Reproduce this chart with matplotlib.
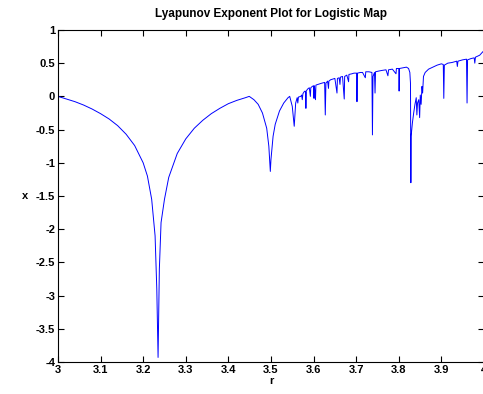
import matplotlib.pyplot as plt

# values (r, Lyapunov exponent)
r_vals = [
    3.000, 3.020, 3.040, 3.060, 3.080, 3.100, 3.120, 3.140, 3.160, 3.180,
    3.200, 3.210, 3.220, 3.228, 3.232, 3.2350, 3.2365, 3.238, 3.242, 3.250,
    3.260, 3.280, 3.300, 3.320, 3.340, 3.360, 3.380, 3.400, 3.420, 3.440,
    3.449, 3.460, 3.470, 3.480, 3.490, 3.495, 3.4985, 3.500, 3.505, 3.510,
    3.520, 3.530, 3.540, 3.544, 3.550, 3.5546, 3.558, 3.5615, 3.5630, 3.5645,
    3.5700, 3.5720, 3.5735, 3.5750, 3.5780, 3.5800, 3.5815, 3.5820, 3.5828, 3.5860,
    3.5900, 3.5925, 3.5935, 3.5970, 3.6000, 3.6010, 3.6020, 3.6045, 3.6055, 3.6100,
    3.6150, 3.6200, 3.6260, 3.6275, 3.6290, 3.6330, 3.6350, 3.6360, 3.6400, 3.6450,
    3.6500, 3.6550, 3.6560, 3.6600, 3.6620, 3.6630, 3.6680, 3.6720, 3.6730, 3.6780,
    3.6822, 3.6830, 3.6900, 3.6950, 3.7010, 3.7019, 3.7030, 3.7100, 3.7150, 3.7215,
    3.7225, 3.7300, 3.7370, 3.7382, 3.7395, 3.7430, 3.7443, 3.7455, 3.7520, 3.7600,
    3.7700, 3.7745, 3.7760, 3.7850, 3.7935, 3.7945, 3.8000, 3.8008, 3.8018, 3.8100,
    3.8180, 3.8230, 3.8260, 3.8275, 3.8284, 3.8290, 3.8320, 3.8350, 3.8380, 3.8410,
    3.8425, 3.8440, 3.8470, 3.8490, 3.8505, 3.8525, 3.8545, 3.8560, 3.8580, 3.8620,
    3.8700, 3.8800, 3.8900, 3.9000, 3.9045, 3.9057, 3.9070, 3.9150, 3.9250, 3.9360,
    3.9375, 3.9390, 3.9500, 3.9590, 3.9603, 3.9615, 3.9700, 3.9770, 3.9785, 3.9800,
    3.9900, 4.0000,
]
lyap_vals = [
    0.00, -0.04, -0.08, -0.13, -0.19, -0.26, -0.34, -0.44, -0.57, -0.74,
    -1.00, -1.20, -1.55, -2.10, -2.90, -3.93, -3.30, -2.60, -1.90, -1.55,
    -1.22, -0.86, -0.64, -0.48, -0.36, -0.26, -0.18, -0.11, -0.06, -0.02,
    0.00, -0.05, -0.12, -0.25, -0.48, -0.75, -1.13, -0.95, -0.60, -0.42,
    -0.22, -0.10, -0.02, 0.00, -0.15, -0.45, -0.10, -0.02, -0.10, -0.01,
    0.00, 0.02, -0.05, 0.04, 0.07, 0.08, 0.06, -0.18, 0.08, 0.11,
    0.13, 0.00, 0.13, 0.15, 0.16, -0.03, 0.16, -0.05, 0.17, 0.18,
    0.19, 0.20, 0.21, -0.28, 0.20, 0.23, 0.12, 0.23, 0.25, 0.26,
    0.27, 0.05, 0.27, 0.28, 0.18, 0.29, 0.30, -0.04, 0.30, 0.32,
    0.22, 0.33, 0.34, 0.35, 0.35, -0.08, 0.35, 0.36, 0.36, 0.28,
    0.37, 0.37, 0.36, -0.58, 0.30, 0.36, 0.05, 0.37, 0.38, 0.39,
    0.40, 0.31, 0.40, 0.41, 0.34, 0.42, 0.42, 0.08, 0.42, 0.43,
    0.44, 0.42, 0.36, 0.20, -1.30, -0.60, -0.40, -0.25, -0.12, -0.02,
    -0.28, -0.10, -0.05, -0.32, 0.02, -0.12, 0.15, 0.05, 0.30, 0.36,
    0.41, 0.44, 0.47, 0.49, 0.48, -0.03, 0.47, 0.50, 0.51, 0.53,
    0.45, 0.53, 0.55, 0.56, -0.10, 0.55, 0.57, 0.58, 0.50, 0.59,
    0.62, 0.69,
]
x_ticks = [3, 3.1, 3.2, 3.3, 3.4, 3.5, 3.6, 3.7, 3.8, 3.9, 4]
x_tick_labels = ['3', '3.1', '3.2', '3.3', '3.4', '3.5', '3.6', '3.7', '3.8', '3.9', '4']
y_ticks = [-4, -3.5, -3, -2.5, -2, -1.5, -1, -0.5, 0, 0.5, 1]
y_tick_labels = ['-4', '-3.5', '-3', '-2.5', '-2', '-1.5', '-1', '-0.5', '0', '0.5', '1']

plt.rcParams['font.family'] = ['Liberation Sans', 'DejaVu Sans']
plt.rcParams['font.weight'] = 'bold'
plt.rcParams['font.size'] = 8

fig = plt.figure(figsize=(4.83, 3.94), dpi=100)
ax = fig.add_axes([0.120, 0.081, 0.882, 0.843])

ax.plot(r_vals, lyap_vals, color='blue', linewidth=0.7)

ax.set_xlim(3, 4)
ax.set_ylim(-4, 1)
ax.set_xticks(x_ticks)
ax.set_xticklabels(x_tick_labels)
ax.set_yticks(y_ticks)
ax.set_yticklabels(y_tick_labels)
ax.tick_params(direction='in', top=True, right=True, length=4, width=0.8, pad=2)
for s in ax.spines.values():
    s.set_linewidth(0.8)

ax.set_title('Lyapunov Exponent Plot for Logistic Map', fontweight='bold', fontsize=8.5, pad=9)
ax.set_xlabel('r', fontweight='bold', labelpad=1)
ax.set_ylabel('x', fontweight='bold', labelpad=8, rotation=0, va='center')

fig.savefig('out.png', dpi=100)
